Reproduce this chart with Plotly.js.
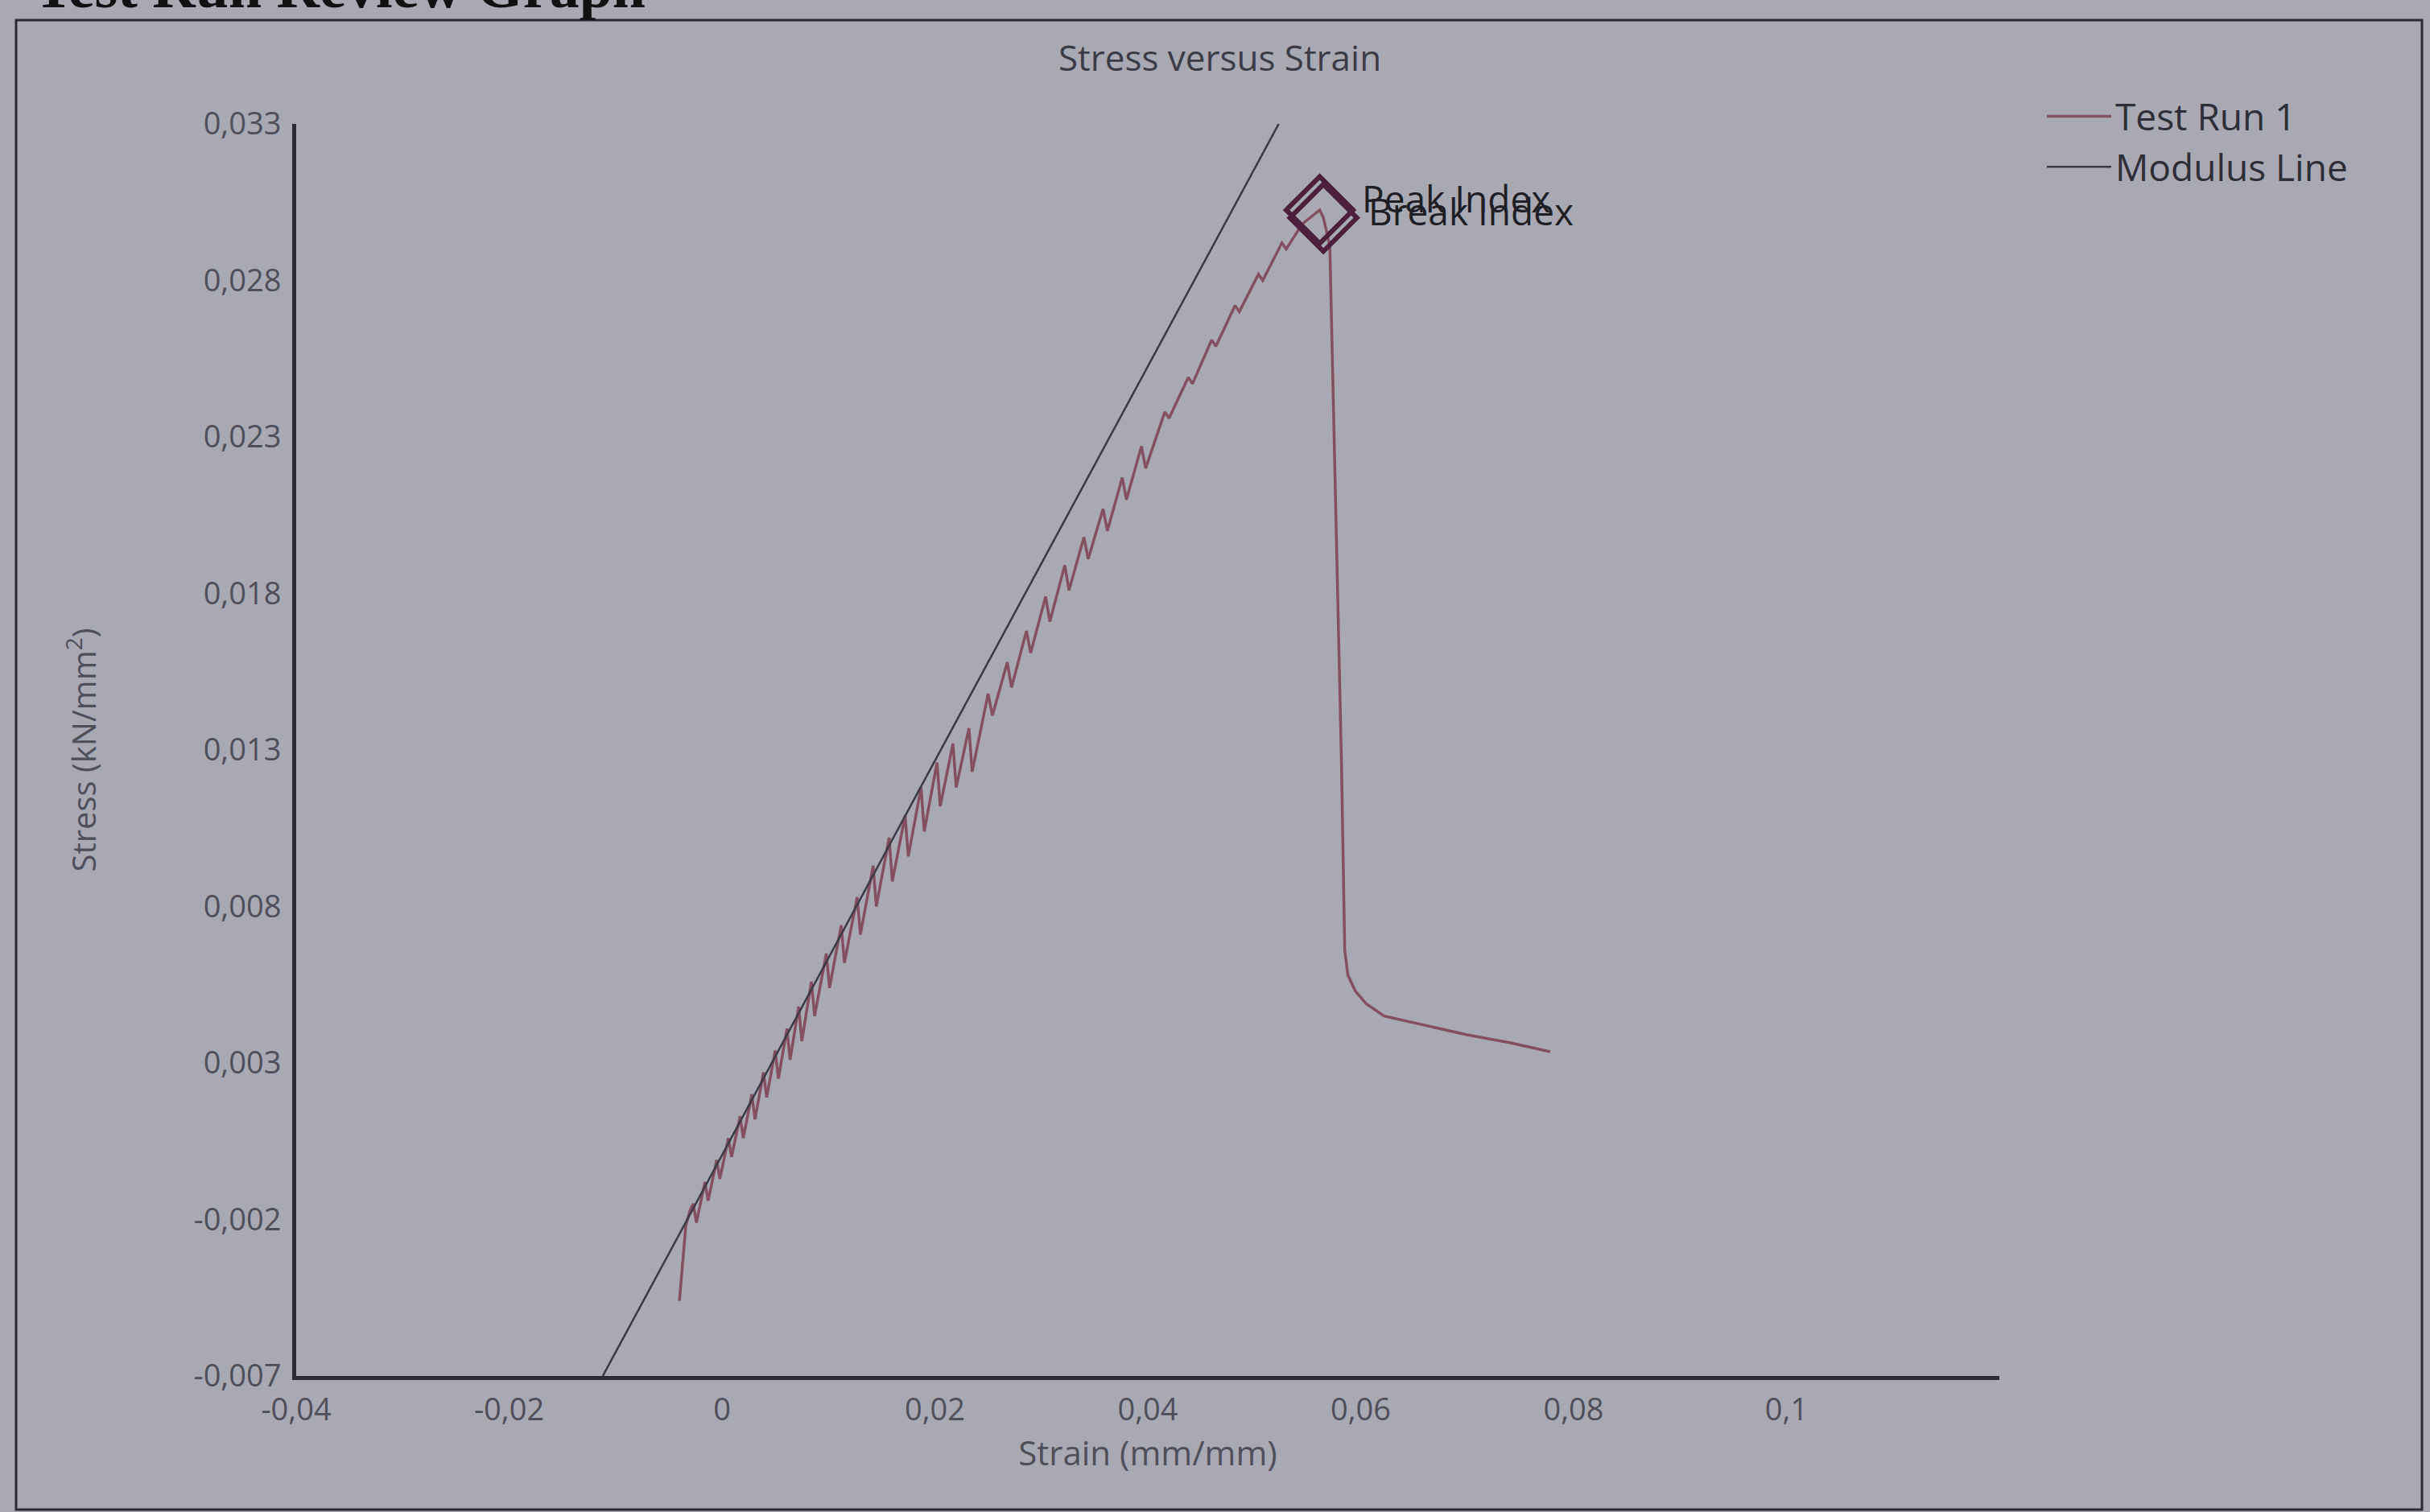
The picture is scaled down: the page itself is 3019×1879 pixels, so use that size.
<!DOCTYPE html>
<html>
<head>
<meta charset="utf-8">
<script src="https://cdn.plot.ly/plotly-3.0.1.min.js"></script>
<style>
html, body { margin: 0; padding: 0; background: #a9a9b4; }
#chart { width: 3019px; height: 1879px; }
</style>
</head>
<body>
<div id="chart"></div>
<script>
// ---- Data ----
const testRunStrain = [
  -0.0040, -0.0034, -0.0030,
  -0.0027, -0.0024, -0.0016, -0.0013, -0.0005, -0.0002,
  0.0006, 0.0009, 0.0017, 0.0020, 0.0028, 0.0031, 0.0039, 0.0042,
  0.0050, 0.0053, 0.0061, 0.0064, 0.0072, 0.0075,
  0.0084, 0.0087, 0.0098, 0.0101, 0.0112, 0.0115, 0.0127, 0.0130,
  0.0142, 0.0145, 0.0157, 0.0160, 0.0172, 0.0175, 0.0187, 0.0190,
  0.0202, 0.0205, 0.0217, 0.0220, 0.0232, 0.0235,
  0.0250, 0.0254, 0.0268, 0.0272, 0.0286, 0.0290, 0.0304, 0.0308,
  0.0322, 0.0326, 0.0340, 0.0344, 0.0358, 0.0362, 0.0376, 0.0380,
  0.0394, 0.0398, 0.0416, 0.0420, 0.0438, 0.0442, 0.0460, 0.0464,
  0.0482, 0.0486, 0.0504, 0.0508, 0.0526, 0.0530, 0.0545, 0.05615,
  0.0565, 0.0571, 0.0577, 0.0582, 0.0585, 0.0588, 0.0595, 0.0605,
  0.0622, 0.0660, 0.0700, 0.0740, 0.0778
];
const testRunStress = [
  -0.0046, -0.0022, -0.0017,
  -0.0015, -0.0021, -0.0008, -0.0014, -0.0001, -0.0007,
  0.0006, 0.0000, 0.0013, 0.0006, 0.0020, 0.0012, 0.0027, 0.0019,
  0.0034, 0.0025, 0.0041, 0.0031, 0.0048, 0.0037,
  0.0056, 0.0045, 0.0065, 0.0054, 0.0074, 0.0062, 0.0083, 0.0071,
  0.0093, 0.0080, 0.0102, 0.0088, 0.0109, 0.0096, 0.0118, 0.0104,
  0.0126, 0.0112, 0.0132, 0.0118, 0.0137, 0.0123,
  0.0148, 0.0141, 0.0158, 0.0150, 0.0168, 0.0161, 0.0179, 0.0171,
  0.0189, 0.0181, 0.0198, 0.0191, 0.0207, 0.0200, 0.0217, 0.0210,
  0.0227, 0.0220, 0.0238, 0.0236, 0.0249, 0.0247, 0.0261, 0.0259,
  0.0272, 0.0270, 0.0282, 0.0280, 0.0292, 0.0290, 0.0298, 0.03025,
  0.0300, 0.0291, 0.0197, 0.0125, 0.0066, 0.0058, 0.0053, 0.0049,
  0.0045, 0.0042, 0.0039, 0.00365, 0.00336
];
const modulusStrain = [-0.0112, 0.0523];
const modulusStress = [-0.0070, 0.0330];

const markerNames = ["Peak Index", "Break Index"];
const markerStrain = [0.05615, 0.0565];
const markerStress = [0.03025, 0.0300];

const xTickVals = [-0.04, -0.02, 0, 0.02, 0.04, 0.06, 0.08, 0.1];
const xTickText = ["-0,04", "-0,02", "0", "0,02", "0,04", "0,06", "0,08", "0,1"];
const yTickVals = [-0.007, -0.002, 0.003, 0.008, 0.013, 0.018, 0.023, 0.028, 0.033];
const yTickText = ["-0,007", "-0,002", "0,003", "0,008", "0,013", "0,018", "0,023", "0,028", "0,033"];

// ---- Geometry helpers (page pixels -> paper coords) ----
const W = 3019, H = 1879;
const M = { l: 368, r: 535, t: 154, b: 169 };
const PW = W - M.l - M.r, PH = H - M.t - M.b;
const px = v => (v - M.l) / PW;
const py = v => (H - M.b - v) / PH;

const FONT = "'Open Sans', 'Noto Sans', sans-serif";
const TXT = "#4f4f5a";

const traces = [
  {
    type: "scatter", mode: "lines", name: "Test Run 1",
    x: testRunStrain, y: testRunStress,
    line: { color: "#84505f", width: 3.5 }
  },
  {
    type: "scatter", mode: "lines", name: "Modulus Line",
    x: modulusStrain, y: modulusStress,
    line: { color: "#3a3a46", width: 2.5 }
  },
  {
    type: "scatter", mode: "markers", showlegend: false,
    x: markerStrain, y: markerStress, text: markerNames,
    marker: { symbol: "diamond-open", size: 64, color: "#4c1f3c", line: { width: 6, color: "#4c1f3c" } }
  }
];

const labelShift = [[50, 15], [54, 9]];
const annotations = markerNames.map((n, i) => ({
  x: markerStrain[i], y: markerStress[i], xref: "x", yref: "y",
  text: n, showarrow: false, xanchor: "left", yanchor: "middle",
  xshift: labelShift[i][0], yshift: labelShift[i][1],
  font: { family: FONT, size: 46, color: "#1e1e24" }
}));
annotations.push({
  xref: "paper", yref: "paper", x: px(40), y: py(-16),
  xanchor: "left", yanchor: "middle", showarrow: false,
  text: "<b>Test Run Review Graph</b>",
  font: { family: "'Liberation Serif', 'DejaVu Serif', serif", size: 74, color: "#111" }
});

const layout = {
  width: W, height: H,
  margin: M,
  paper_bgcolor: "#a9a9b4",
  plot_bgcolor: "#a9a9b4",
  font: { family: FONT, color: TXT },
  title: {
    text: "Stress versus Strain",
    xref: "container", x: 0.502, xanchor: "center",
    yref: "container", y: 1 - 73 / H, yanchor: "middle",
    font: { family: FONT, size: 44, color: "#3c3c46" }
  },
  showlegend: true,
  legend: {
    x: px(2538), xanchor: "left", y: py(108), yanchor: "top",
    bgcolor: "rgba(0,0,0,0)", itemwidth: 80,
    font: { family: FONT, size: 46, color: "#2e2e36" }
  },
  xaxis: {
    range: [-0.04, 0.12],
    showgrid: false, zeroline: false,
    showline: true, linewidth: 5, linecolor: "#2b2b33",
    ticks: "", tickvals: xTickVals, ticktext: xTickText,
    ticklabelstandoff: 4,
    tickfont: { family: FONT, size: 38, color: TXT },
    title: { text: "Strain (mm/mm)", standoff: 14, font: { family: FONT, size: 42, color: TXT } }
  },
  yaxis: {
    range: [-0.007, 0.033],
    showgrid: false, zeroline: false,
    showline: true, linewidth: 5, linecolor: "#2b2b33",
    ticks: "", tickvals: yTickVals, ticktext: yTickText,
    ticklabelstandoff: 6,
    tickfont: { family: FONT, size: 38, color: TXT },
    title: { text: "Stress (kN/mm<sup>2</sup>)", standoff: 110, font: { family: FONT, size: 40, color: TXT } }
  },
  shapes: [
    {
      type: "rect", xref: "paper", yref: "paper",
      x0: px(20), x1: px(3009), y0: py(1876), y1: py(25),
      line: { color: "#2a2a30", width: 3 }, fillcolor: "rgba(0,0,0,0)", layer: "below"
    }
  ],
  annotations: annotations
};

Plotly.newPlot("chart", traces, layout, { displayModeBar: false, staticPlot: true });
</script>
</body>
</html>
